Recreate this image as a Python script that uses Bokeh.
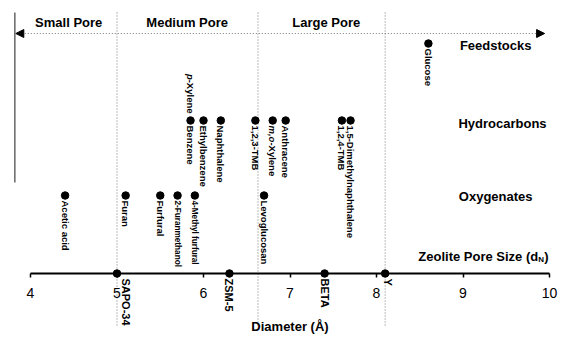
import math
from bokeh.plotting import figure
from bokeh.models import Range1d, FixedTicker, Arrow, NormalHead
from bokeh.core.properties import value
from bokeh.embed import file_html
from bokeh.resources import INLINE

# ---------------- data ----------------
feed_names = ["Glucose"]
feed_d = [8.6]

hc_names = ["Benzene", "Ethylbenzene", "Naphthalene", "1,2,3-TMB",
            "m,o-Xylene", "Anthracene", "1,2,4-TMB", "1,5-Dimethylnaphthalene"]
hc_d = [5.85, 6.0, 6.2, 6.6, 6.8, 6.95, 7.6, 7.7]

hc_above_names = ["p-Xylene"]          # drawn above the shared Benzene point
hc_above_d = [5.85]

ox_names = ["Acetic acid", "Furan", "Furfural", "2-Furanmethanol",
            "4-Methyl furfural", "Levoglucosan"]
ox_d = [4.4, 5.1, 5.5, 5.7, 5.9, 6.7]

zeo_names = ["SAPO-34", "ZSM-5", "BETA", "Y"]
zeo_d = [5.0, 6.3, 7.4, 8.1]

pore_bounds = [5.0, 6.63, 8.1]
pore_classes = ["Small Pore", "Medium Pore", "Large Pore"]
row_titles = ["Feedstocks", "Hydrocarbons", "Oxygenates"]
tick_values = [4, 5, 6, 7, 8, 9, 10]
x_title = "Diameter (Å)"

# ---------------- layout ----------------
W, H = 558, 336
PX_PER = (549 - 30) / 6.0          # screen pixels per Å
XS = 4 - 30 / PX_PER               # x-range start


def X(px):
    """data x from a horizontal position in the reference picture"""
    return 4 + (px - 31) / 88.33


def Y(py):
    return 273 - py


FONT = "Liberation Sans"
ROW_FEED, ROW_HC, ROW_OX, ROW_ZEO = Y(43), Y(120), Y(195), 0

p = figure(width=W, height=H, x_range=Range1d(XS, XS + W / PX_PER),
           y_range=Range1d(273 - H, 273), output_backend="svg",
           toolbar_location=None, y_axis_location=None, min_border=0)
p.outline_line_color = None
p.grid.visible = False
p.background_fill_color = "white"

ax = p.xaxis[0]
ax.fixed_location = 0
ax.bounds = (tick_values[0], tick_values[-1])
ax.ticker = FixedTicker(ticks=tick_values)
ax.minor_tick_line_color = None
ax.major_tick_in = 0
ax.major_tick_out = 4
ax.major_tick_line_width = 1.5
ax.axis_line_width = 2
ax.axis_line_color = "black"
ax.major_label_text_font = FONT
ax.major_label_text_font_size = "14px"
ax.major_label_text_color = "black"
ax.major_label_standoff = 10
ax.axis_label = x_title
ax.axis_label_text_font = FONT
ax.axis_label_text_font_style = "bold"
ax.axis_label_text_font_size = "13px"
ax.axis_label_text_color = "black"
ax.axis_label_standoff = 18

# vertical dotted pore boundaries
p.segment(x0=pore_bounds, x1=pore_bounds, y0=[Y(12)] * 3, y1=[Y(325)] * 3,
          line_color="#777777", line_dash="1 2", line_width=1)
# left solid bar
p.segment(x0=[X(15)], x1=[X(15)], y0=[Y(12)], y1=[Y(182)],
          line_color="#666666", line_width=1.5)
# double arrow
p.add_layout(Arrow(start=NormalHead(size=8, fill_color="black", line_color="black"),
                   end=NormalHead(size=8, fill_color="black", line_color="black"),
                   x_start=X(16), y_start=Y(33), x_end=X(556), y_end=Y(33),
                   line_color="#777777", line_dash="1 2", line_width=1))

# pore class titles
mid_px = [70, 191, 333]
p.text(x=[X(v) for v in mid_px], y=[Y(22)] * 3, text=pore_classes,
       text_font=value(FONT), text_font_style="bold", text_font_size="13px",
       text_align="center", text_baseline="middle", text_color="black")
# row titles
p.text(x=[X(506), X(513), X(506)], y=[Y(45), Y(123), Y(196)], text=row_titles,
       text_font=value(FONT), text_font_style="bold", text_font_size="13px",
       text_align="center", text_baseline="middle", text_color="black")
zx = 427
p.text(x=[X(zx)], y=[Y(256)], text=["Zeolite Pore Size (d"],
       text_font=value(FONT), text_font_style="bold", text_font_size="13px",
       text_align="left", text_baseline="middle", text_color="black")
p.text(x=[X(zx)], y=[Y(259)], x_offset=120, text=["N"],
       text_font=value(FONT), text_font_style="bold", text_font_size="8px",
       text_align="left", text_baseline="middle", text_color="black")
p.text(x=[X(zx)], y=[Y(256)], x_offset=126, text=[")"],
       text_font=value(FONT), text_font_style="bold", text_font_size="13px",
       text_align="left", text_baseline="middle", text_color="black")

# points
for xs, row in [(feed_d, ROW_FEED), (hc_d, ROW_HC), (ox_d, ROW_OX), (zeo_d, ROW_ZEO)]:
    p.scatter(x=xs, y=[row] * len(xs), size=7.5, color="black")

ANG = -math.pi / 2
italic_prefix = {"m,o-Xylene": ("m,o", 16.9), "p-Xylene": ("p", 5.3)}
small = {"2-Furanmethanol", "4-Methyl furfural"}


def vlabels(names, xs, row, size="9.5px", nudge=None):
    nudge = nudge or {}
    for n, xv in zip(names, xs):
        fs = "8.2px" if n in small else size
        xo = nudge.get(n, 0)
        if n in italic_prefix:
            pre, w = italic_prefix[n]
            rest = n[len(pre):]
            p.text(x=[xv], y=[row - 5], text=[pre], angle=ANG, x_offset=xo,
                   text_font=value(FONT), text_font_style="bold italic", text_font_size=fs,
                   text_align="left", text_baseline="middle", text_color="black")
            p.text(x=[xv], y=[row - 5 - w], text=[rest], angle=ANG, x_offset=xo,
                   text_font=value(FONT), text_font_style="bold", text_font_size=fs,
                   text_align="left", text_baseline="middle", text_color="black")
        else:
            p.text(x=[xv], y=[row - 5], text=[n], angle=ANG, x_offset=xo,
                   text_font=value(FONT), text_font_style="bold", text_font_size=fs,
                   text_align="left", text_baseline="middle", text_color="black")


vlabels(feed_names, feed_d, ROW_FEED)
vlabels(hc_names, hc_d, ROW_HC)
vlabels(ox_names, ox_d, ROW_OX)
vlabels(zeo_names, zeo_d, ROW_ZEO, size="11px", nudge={"SAPO-34": 9, "Y": 3})

# p-Xylene above the point (reads downward, ends just above the dot)
for n, xv in zip(hc_above_names, hc_above_d):
    pre, w = italic_prefix[n]
    rest = n[len(pre):]
    p.text(x=[xv], y=[ROW_HC + 7], text=[rest], angle=ANG,
           text_font=value(FONT), text_font_style="bold", text_font_size="9.5px",
           text_align="right", text_baseline="middle", text_color="black")
    p.text(x=[xv], y=[ROW_HC + 7 + 33.8], text=[pre], angle=ANG,
           text_font=value(FONT), text_font_style="bold italic", text_font_size="9.5px",
           text_align="right", text_baseline="middle", text_color="black")

open("out.html", "w").write(file_html(p, INLINE))
